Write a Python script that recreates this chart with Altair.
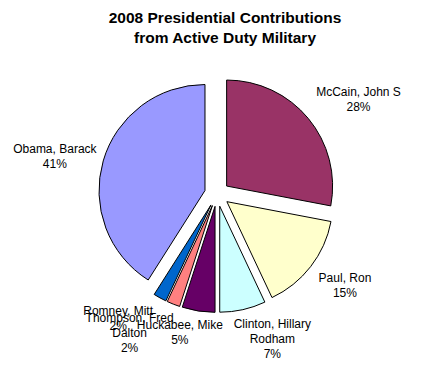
import math
import altair as alt
import pandas as pd

# ---- data ----
names = ["McCain, John S", "Paul, Ron", "Clinton, Hillary\nRodham", "Huckabee, Mike",
         "Thompson, Fred\nDalton", "Romney, Mitt", "Obama, Barack"]
shares = [28, 15, 7, 5, 2, 2, 41]
colors = ["#993366", "#FFFFCC", "#CCFFFF", "#660066", "#FF8080", "#0066CC", "#9999FF"]
title_lines = ["2008 Presidential Contributions", "from Active Duty Military"]

df = pd.DataFrame({"name": names, "share": shares, "order": list(range(len(names)))})

# ---- layout ----
W, H = 426, 370
CX, CY = 209, 186      # pie centre (plot coords)
R = 106                # radius
EXPLODE = 12.5         # explosion distance
GAP = 7                # label gap
KX, KY = 2.5, 2.5      # how quickly a label box swings to the outer side
LH = 15                # label line height
FONT = "Liberation Sans"

base = alt.Chart(df).transform_joinaggregate(
    total="sum(share)"
).transform_window(
    cum="sum(share)", sort=[alt.SortField("order")], frame=[None, 0]
).transform_calculate(
    start="datum.cum - datum.share"
).transform_calculate(
    mid="(datum.cum - datum.share / 2) / datum.total * 2 * PI"
)

arcs = base.transform_calculate(
    px=f"{CX} + {EXPLODE} * sin(datum.mid)"
).transform_calculate(
    py=f"{CY} - {EXPLODE} * cos(datum.mid)"
).mark_arc(outerRadius=R, stroke="black", strokeWidth=1).encode(
    theta=alt.Theta("start:Q", stack=False,
                    scale=alt.Scale(domain=[0, 100], range=[0, 2 * math.pi])),
    theta2="cum:Q",
    x=alt.X("px:Q", scale=None),
    y=alt.Y("py:Q", scale=None),
    color=alt.Color("name:N", scale=alt.Scale(domain=names, range=colors), legend=None),
    order=alt.Order("order:Q"),
)

labels = base.transform_calculate(
    label="datum.name + '\\n' + datum.share + '%'"
).transform_calculate(
    nl="length(split(datum.label, '\\n'))",
    hw="length(split(datum.name, '\\n')[0]) * 3.2",
).transform_calculate(
    hh=f"datum.nl * {LH} / 2",
).transform_calculate(
    lx=(f"{CX} + ({R} + {EXPLODE} + {GAP}) * sin(datum.mid)"
        f" + datum.hw * clamp({KX} * sin(datum.mid), -1, 1)"),
    ly=(f"{CY} - ({R} + {EXPLODE} + {GAP}) * cos(datum.mid)"
        f" - datum.hh * clamp({KY} * cos(datum.mid) * abs(cos(datum.mid)), -1, 1)"
        f" - (datum.nl - 1) * {LH} / 2"),
).mark_text(lineBreak="\n", font=FONT, fontSize=12, lineHeight=LH,
            baseline="middle", align="center", color="black").encode(
    x=alt.X("lx:Q", scale=None),
    y=alt.Y("ly:Q", scale=None),
    text="label:N",
)

title_df = pd.DataFrame({"t": ["\n".join(title_lines)]})
title = alt.Chart(title_df).mark_text(
    lineBreak="\n", font=FONT, fontSize=15.5, fontWeight="bold", lineHeight=20,
    baseline="alphabetic", align="center", color="black"
).encode(x=alt.value(217), y=alt.value(15), text="t:N")

chart = alt.layer(arcs, labels, title).properties(
    width=W, height=H, padding=0, autosize=alt.AutoSizeParams(type="none"),
    background="white"
).configure_view(stroke=None)

chart.save("out.html", embed_options={"renderer": "svg", "actions": False})
